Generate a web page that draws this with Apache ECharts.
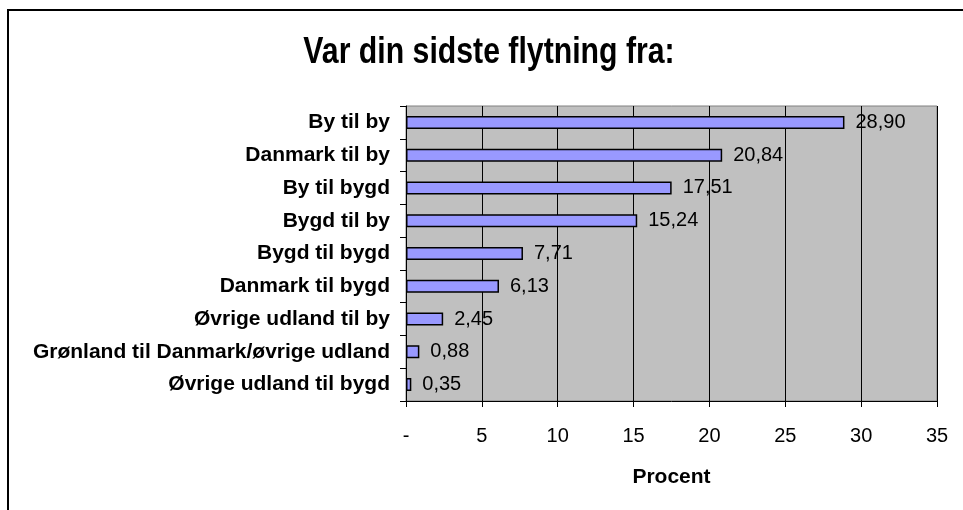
<!DOCTYPE html>
<html>
<head>
<meta charset="utf-8">
<script src="https://cdn.jsdelivr.net/npm/echarts@6/dist/echarts.min.js"></script>
<style>
  html, body { margin: 0; padding: 0; background: #fff; }
  #chart { width: 963px; height: 510px; }
</style>
</head>
<body>
<div id="chart"></div>
<script>
// data
const titleText = "Var din sidste flytning fra:";
const categories = [
  "By til by",
  "Danmark til by",
  "By til bygd",
  "Bygd til by",
  "Bygd til bygd",
  "Danmark til bygd",
  "Øvrige udland til by",
  "Grønland til Danmark/øvrige udland",
  "Øvrige udland til bygd"
];
const values = [28.90, 20.84, 17.51, 15.24, 7.71, 6.13, 2.45, 0.88, 0.35];
const xTicks = [0, 5, 10, 15, 20, 25, 30, 35];

const font = "'Liberation Sans', Arial, sans-serif";

let chart = echarts.init(document.getElementById("chart"));
chart.setOption({
  animation: false,
  backgroundColor: "#fff",
  graphic: [
    {
      // outer chart frame
      type: "rect",
      shape: { x: 8, y: 10, width: 970, height: 520 },
      style: { fill: "none", stroke: "#000", lineWidth: 2 },
      silent: true
    },
    {
      // title, a bit condensed like the original
      type: "text",
      x: 489,
      y: 53,
      scaleX: 0.84,
      style: {
        text: titleText,
        fill: "#000",
        font: "bold 36px " + font,
        textAlign: "center",
        textVerticalAlign: "middle"
      },
      silent: true
    }
  ],
  grid: {
    left: 406, right: 26, top: 106, bottom: 109,
    show: true, backgroundColor: "#c0c0c0", borderColor: "#808080", borderWidth: 1
  },
  xAxis: {
    type: "value",
    min: xTicks[0],
    max: xTicks[xTicks.length - 1],
    interval: 5,
    name: "Procent",
    nameLocation: "middle",
    nameGap: 66,
    nameTextStyle: { fontFamily: font, fontSize: 21, fontWeight: "bold", color: "#000" },
    axisLine: { show: true, lineStyle: { color: "#000", width: 1 } },
    axisTick: { show: true, length: 6, lineStyle: { color: "#000" } },
    splitLine: { show: true, lineStyle: { color: "#000", width: 1 } },
    axisLabel: {
      margin: 25,
      fontFamily: font, fontSize: 20, color: "#000",
      formatter: v => (v === 0 ? "-" : String(v))
    }
  },
  yAxis: {
    type: "category",
    data: categories,
    inverse: true,
    axisLine: { show: true, lineStyle: { color: "#000", width: 1 } },
    axisTick: { show: true, length: 6, lineStyle: { color: "#000" } },
    axisLabel: {
      margin: 16,
      fontFamily: font, fontSize: 21, fontWeight: "bold", color: "#000"
    }
  },
  series: [{
    type: "bar",
    data: values,
    barWidth: 13,
    itemStyle: { color: "#9999ff", borderColor: "#000", borderWidth: 1.5 },
    label: {
      show: true,
      position: "right",
      distance: 11,
      fontFamily: font, fontSize: 20, color: "#000",
      formatter: p => p.value.toFixed(2).replace(".", ",")
    }
  }]
});
</script>
</body>
</html>
